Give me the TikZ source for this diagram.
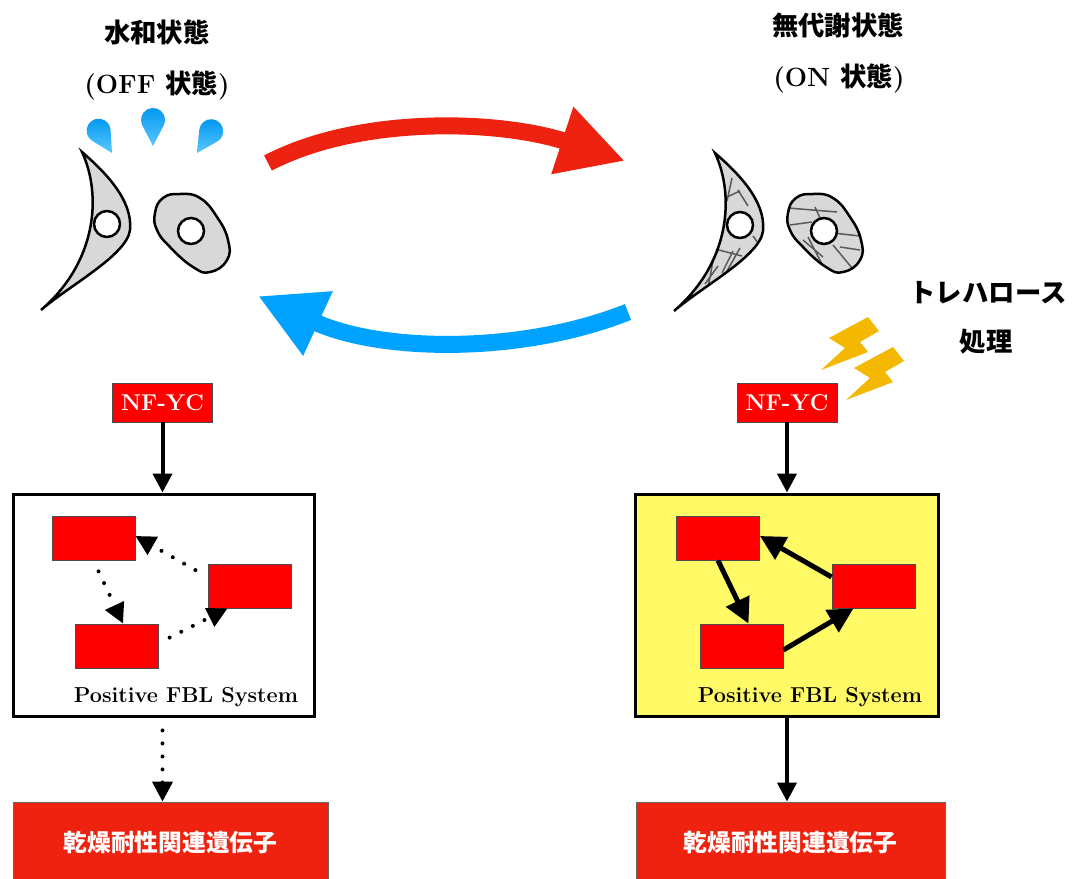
\documentclass[tikz,border=0pt]{standalone}
\usepackage{fontspec}
\usepackage{tikz}
\usetikzlibrary{arrows.meta,calc}
\newfontfamily\cjk{Noto Sans CJK JP}
\definecolor{warmred}{RGB}{238,34,17}
\definecolor{coolblue}{RGB}{0,162,255}
\definecolor{boxred}{RGB}{255,0,0}
\definecolor{genered}{RGB}{238,34,14}
\definecolor{sysyellow}{RGB}{255,250,102}
\definecolor{boltyellow}{RGB}{245,184,0}
\definecolor{cellgray}{RGB}{216,216,216}
\definecolor{dropdark}{RGB}{0,150,240}
\definecolor{droplight}{RGB}{90,200,255}

% cell outlines, origin at the nucleus
\newcommand{\crescentcell}{(-25,-72) .. controls (-2,-52) and (26,-24) .. (23,6) .. controls (20,31) and (-37,61) .. (-66,86) .. controls (-10,38) and (-5,-29) .. (-25,-72) -- cycle}
\newcommand{\beancell}{plot[smooth cycle,tension=0.8] coordinates {(-36,-18) (-28,-33) (-11,-37) (9,-33) (26,-14) (37,9) (36,29) (19,41) (2,36) (-21,16) (-34,-1)}}

\tikzset{
  waterdrop/.pic={\shade[top color=dropdark,bottom color=droplight] (0,0) -- (-10.6,-20.4) arc[start angle=152,end angle=388,radius=12] -- cycle;},
  bolt/.pic={\fill[boltyellow] (0,0) -- (11,14) -- (-8,25) -- (0,35) -- (-47,53) -- (-23,31) -- (-39,21) -- cycle;}
}

\begin{document}
\begin{tikzpicture}[x=0.02cm,y=-0.02cm,
    cell/.style={fill=cellgray,draw=black,line width=0.05cm},
    outline/.style={draw=black,line width=0.05cm},
    nucleus/.style={fill=white,draw=black,line width=0.05cm},
    fibre/.style={draw=black!65,line width=0.03cm},
    title/.style={font=\fontsize{15}{18}\selectfont\bfseries},
    redbox/.style={draw=black!70,fill=boxred,line width=0.5pt,minimum width=1.66cm,minimum height=0.88cm,inner sep=0pt},
    tfbox/.style={draw=black!70,fill=boxred,line width=0.5pt,minimum width=2cm,minimum height=0.78cm,inner sep=0pt,text=white,font=\fontsize{13}{15}\selectfont\bfseries},
    sysbox/.style={draw=black,line width=0.06cm,minimum height=4.46cm,inner sep=0pt},
    genebox/.style={draw=black!60,fill=genered,line width=0.5pt,minimum height=1.64cm,inner sep=0pt,text=white,font=\fontsize{13.5}{16}\selectfont\cjk\bfseries},
    syslabel/.style={font=\fontsize{12.3}{14}\selectfont\bfseries},
    bigarrow/.style={line width=0.34cm,-{Triangle[length=1.32cm,width=1.32cm]}},
    feed/.style={line width=0.08cm,-{Triangle[length=0.38cm,width=0.38cm]}},
    loopon/.style={line width=0.1cm,-{Triangle[length=0.5cm,width=0.5cm]}},
    loopoff/.style={line width=0.08cm,line cap=round,dash pattern=on 0pt off 0.26cm,-{Triangle[length=0.4cm,width=0.4cm]}}]
  \useasboundingbox (0,0) rectangle (1073,879);

  % titles
  \node[title] (offname) at (157,32) {\cjk 水和状態};
  \node[title] (offstate) at (157,85) {(OFF {\cjk 状態})};
  \node[title] (onname) at (838,25) {\cjk 無代謝状態};
  \node[title] (onstate) at (839,78) {(ON {\cjk 状態})};
  \node[title] (treh) at (988,293) {\cjk トレハロース};
  \node[title] (trehb) at (986,342) {\cjk 処理};

  % water and trehalose
  \pic[rotate=31] at (112,153) {waterdrop};
  \pic at (153,146) {waterdrop};
  \pic[rotate=-33] at (197,153) {waterdrop};
  \pic at (868,317) {bolt};
  \pic at (893,347) {bolt};

  % hydrated cells
  \begin{scope}[shift={(107,224)}]
    \filldraw[cell] \crescentcell;
    \filldraw[nucleus] (0,0) circle[radius=13];
  \end{scope}
  \begin{scope}[shift={(191,231)}]
    \filldraw[cell] \beancell;
    \filldraw[nucleus] (0,0) circle[radius=13];
  \end{scope}

  % dry cells
  \begin{scope}[shift={(740,225)}]
    \fill[cellgray] \crescentcell;
    \begin{scope}
      \clip \crescentcell;
      \draw[fibre] (-8,-47) -- (-13,-24) (-13,-28) -- (0,-34) (-2,-35) -- (8,-19)
        (13,11) -- (18,18) (-25,24) -- (2,31) (0,23) -- (-13,46) (-7,26) -- (-18,48)
        (-27,36) -- (-32,63) (-22,41) -- (-35,59);
    \end{scope}
    \draw[outline] \crescentcell;
    \filldraw[nucleus] (0,0) circle[radius=13];
  \end{scope}
  \begin{scope}[shift={(824,231)}]
    \fill[cellgray] \beancell;
    \begin{scope}
      \clip \beancell;
      \draw[fibre] (-36,-23) -- (13,-19) (-9,-24) -- (-4,-13) (9,2) -- (36,5)
        (16,16) -- (36,19) (-21,9) -- (-1,26) (-16,6) -- (2,41) (9,14) -- (28,37)
        (-34,-6) -- (-12,-9);
    \end{scope}
    \draw[outline] \beancell;
    \filldraw[nucleus] (0,0) circle[radius=13];
  \end{scope}

  % drying and rehydration
  \coordinate (dryin) at (268,163);
  \coordinate (dryout) at (625,161);
  \coordinate (wetin) at (628,312);
  \coordinate (wetout) at (258,296);
  \draw[bigarrow,warmred] (dryin) .. controls (360,115) and (500,120) .. (dryout);
  \draw[bigarrow,coolblue] (wetin) .. controls (520,355) and (380,352) .. (wetout);

  % OFF side
  \node[tfbox] (lnf) at (162.5,402.5) {NF-YC};
  \node[sysbox,fill=white,minimum width=6.04cm] (lsys) at (164,605.5) {};
  \node[redbox] (lA) at (93.5,538) {};
  \node[redbox] (lB) at (249.5,586) {};
  \node[redbox] (lC) at (117,646) {};
  \node[syslabel] at (186,697) {Positive FBL System};
  \node[genebox,minimum width=6.3cm] (lgene) at (170.5,843) {乾燥耐性関連遺伝子};
  \draw[feed] (lnf.south) -- (lnf.south |- lsys.north);
  \draw[loopoff,shorten <=0.28cm] ($(lB.west)+(0,-9)$) -- ($(lA.east)+(0,-2)$);
  \draw[loopoff,shorten <=0.24cm] (lA.south) -- ($(lC.north)+(6,0)$);
  \draw[loopoff,shorten <=0.24cm] ($(lC.east)+(0,-3)$) -- ($(lB.south)+(-22,0)$);
  \draw[loopoff,shorten <=0.24cm] (lsys.south -| lnf) -- (lgene.north -| lnf);

  % ON side
  \node[tfbox] (rnf) at (787,402.5) {NF-YC};
  \node[sysbox,fill=sysyellow,minimum width=6.08cm] (rsys) at (787,605.5) {};
  \node[redbox] (rA) at (718,538) {};
  \node[redbox] (rB) at (873.5,586) {};
  \node[redbox] (rC) at (741.5,646) {};
  \node[syslabel] at (810,697) {Positive FBL System};
  \node[genebox,minimum width=6.18cm] (rgene) at (790.5,843) {乾燥耐性関連遺伝子};
  \draw[feed] (rnf.south) -- (rnf.south |- rsys.north);
  \draw[loopon] (rA.south) -- ($(rC.north)+(7,0)$);
  \draw[loopon] ($(rB.west)+(0,-9)$) -- ($(rA.east)+(0,-2)$);
  \draw[loopon] ($(rC.east)+(0,4)$) -- ($(rB.south)+(-20,0)$);
  \draw[feed] (rsys.south -| rnf) -- (rgene.north -| rnf);
\end{tikzpicture}
\end{document}
